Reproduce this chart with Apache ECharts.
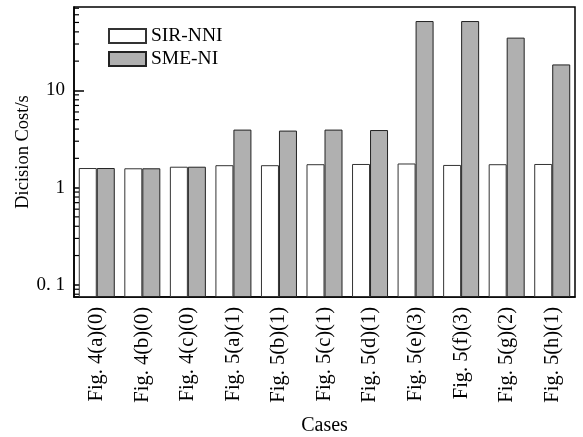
<!DOCTYPE html>
<html>
<head>
<meta charset="utf-8">
<script src="https://cdn.jsdelivr.net/npm/echarts@6/dist/echarts.min.js"></script>
<style>html,body{margin:0;padding:0;background:#fff}#c{width:583px;height:437px}</style>
</head>
<body>
<div id="c"></div>
<script>
const categories = ['Fig. 4(a)(0)','Fig. 4(b)(0)','Fig. 4(c)(0)','Fig. 5(a)(1)','Fig. 5(b)(1)','Fig. 5(c)(1)','Fig. 5(d)(1)','Fig. 5(e)(3)','Fig. 5(f)(3)','Fig. 5(g)(2)','Fig. 5(h)(1)'];
const sirNNI = [1.59, 1.58, 1.64, 1.70, 1.70, 1.74, 1.75, 1.77, 1.71, 1.74, 1.75];
const smeNI  = [1.59, 1.58, 1.64, 3.95, 3.86, 3.95, 3.91, 51.7, 51.7, 34.9, 18.5];
const yTickValues = [0.1, 1, 10];
const yTickLabels = ['0. 1', '1', '10'];
const yMinorTicks = [0.08, 0.09, 0.2, 0.3, 0.4, 0.5, 0.6, 0.7, 0.8, 0.9, 2, 3, 4, 5, 6, 7, 8, 9, 20, 30, 40, 50, 60, 70];
const yMin = 0.0749, yMax = 72.1;

const FONT = 'Liberation Serif';
const chart = echarts.init(document.getElementById('c'), null, {renderer: 'canvas'});
chart.setOption({
  animation: false,
  backgroundColor: '#fff',
  textStyle: {fontFamily: FONT, color: '#000'},
  grid: {left: 74, right: 8, top: 7, bottom: 140, containLabel: false, outerBoundsMode: 'none',
         show: true, borderColor: '#000', borderWidth: 1.5, backgroundColor: 'transparent'},
  legend: {
    left: 103, top: 21, orient: 'vertical', itemWidth: 37, itemHeight: 14, itemGap: 3,
    icon: 'rect',
    textStyle: {fontFamily: FONT, fontSize: 19.5, color: '#000'},
    data: ['SIR-NNI', 'SME-NI']
  },
  xAxis: {
    type: 'category', data: categories,
    name: 'Cases', nameLocation: 'middle', nameGap: 119, nameMoveOverlap: false,
    nameTextStyle: {fontFamily: FONT, fontSize: 20, color: '#000'},
    axisLine: {lineStyle: {color: '#000', width: 1.5}},
    axisTick: {show: false},
    axisLabel: {rotate: 90, margin: 10, fontFamily: FONT, fontSize: 20.5, color: '#000', interval: 0}
  },
  yAxis: {
    type: 'log', logBase: 10, min: yMin, max: yMax, startValue: yMin,
    name: 'Dicision Cost/s', nameLocation: 'middle', nameGap: 41, nameMoveOverlap: false,
    nameTextStyle: {fontFamily: FONT, fontSize: 18.5, color: '#000'},
    axisLine: {show: true, lineStyle: {color: '#000', width: 1.5}},
    axisTick: {show: true, inside: true, length: 10, lineStyle: {color: '#000', width: 1.5}},
    splitLine: {show: false},
    axisLabel: {
      showMinLabel: false, showMaxLabel: false, margin: 9,
      fontFamily: FONT, fontSize: 19, color: '#000',
      formatter: function (v) {
        for (let i = 0; i < yTickValues.length; i++) {
          if (Math.abs(Math.log10(v) - Math.log10(yTickValues[i])) < 1e-6) return yTickLabels[i];
        }
        return '';
      }
    }
  },
  series: [
    {name: 'SIR-NNI', type: 'bar', data: sirNNI, barWidth: 18, barGap: '0%',
     itemStyle: {color: '#ffffff', borderColor: '#333', borderWidth: 1}},
    {name: 'SME-NI', type: 'bar', data: smeNI, barWidth: 18, barGap: '0%',
     itemStyle: {color: '#b0b0b0', borderColor: '#222', borderWidth: 1}},
    {type: 'custom', silent: true, z: 10,
     data: yMinorTicks.map(v => [0, v]),
     encode: {x: 0, y: 1},
     renderItem: function (params, api) {
       const cs = params.coordSys;
       const p = api.coord([0, api.value(1)]);
       return {type: 'line', shape: {x1: cs.x, y1: p[1], x2: cs.x + 5, y2: p[1]},
               style: {stroke: '#000', lineWidth: 1.2}};
     }}
  ]
});
</script>
</body>
</html>
